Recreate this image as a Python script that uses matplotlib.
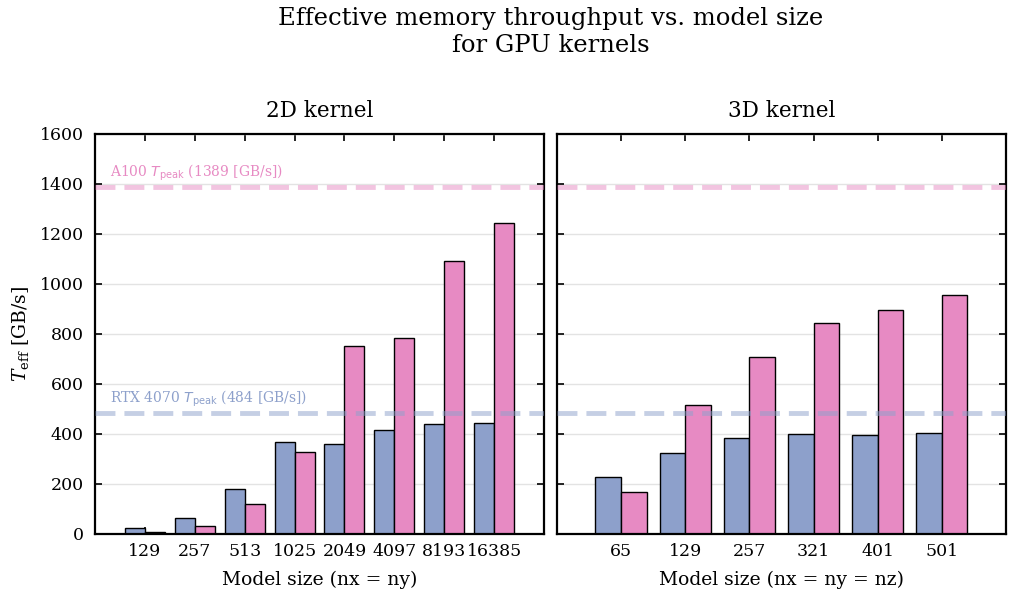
import numpy as np
import matplotlib
matplotlib.use("Agg")
import matplotlib.pyplot as plt

plt.rcParams['font.family'] = 'DejaVu Serif'

# data
sizes_2d = ['129', '257', '513', '1025', '2049', '4097', '8193', '16385']
rtx_2d = [23, 64, 179, 368, 359, 417, 439, 443]
a100_2d = [9, 31, 119, 328, 751, 783, 1091, 1242]

sizes_3d = ['65', '129', '257', '321', '401', '501']
rtx_3d = [227, 325, 383, 401, 396, 405]
a100_3d = [167, 516, 707, 843, 896, 957]

peak_rtx = 484
peak_a100 = 1389

c_rtx = '#8da0cb'
c_a100 = '#e78ac3'

fig, (ax1, ax2) = plt.subplots(1, 2, figsize=(10.11, 5.92), dpi=100, sharey=True)
fig.subplots_adjust(left=0.094, right=0.995, bottom=0.098, top=0.774, wspace=0.029)

w = 0.4
panels = [(ax1, sizes_2d, rtx_2d, a100_2d, '2D kernel', 'Model size (nx = ny)'),
          (ax2, sizes_3d, rtx_3d, a100_3d, '3D kernel', 'Model size (nx = ny = nz)')]

for ax, sizes, rtx, a100, title, xlabel in panels:
    x = np.arange(len(sizes))
    ax.bar(x - w / 2, rtx, w, color=c_rtx, edgecolor='black', linewidth=1.0, zorder=2)
    ax.bar(x + w / 2, a100, w, color=c_a100, edgecolor='black', linewidth=1.0, zorder=2)
    # peak bandwidth lines
    ax.axhline(peak_a100, color=c_a100, alpha=0.5, lw=3.5, ls=(0, (4.1, 1.85)), zorder=3)
    ax.axhline(peak_rtx, color=c_rtx, alpha=0.5, lw=3.5, ls=(0, (4.1, 1.85)), zorder=3)
    ax.set_xticks(x)
    ax.set_xticklabels(sizes)
    ax.set_xlim(-1, len(sizes))
    ax.set_ylim(0, 1600)
    ax.set_yticks(np.arange(0, 1601, 200))
    ax.grid(axis='y', color='#e3e3e3', lw=1.0, zorder=0)
    ax.set_axisbelow(True)
    ax.tick_params(direction='in', top=True, right=True, labelsize=12.5, length=5, width=1.2)
    ax.tick_params(axis='x', pad=6.5)
    ax.tick_params(axis='y', pad=8)
    for s in ax.spines.values():
        s.set_linewidth(1.6)
    ax.set_title(title, fontsize=15.5, pad=12)
    ax.set_xlabel(xlabel, fontsize=13.5, labelpad=7.5)

ax2.tick_params(labelleft=False)

ax1.text(-0.7, peak_a100 + 15, r'A100 $T_{\rm peak}$ (1389 [GB/s])', color=c_a100,
         fontsize=10, va='bottom', math_fontfamily='dejavusans')
ax1.text(-0.7, peak_rtx + 15, r'RTX 4070 $T_{\rm peak}$ (484 [GB/s])', color=c_rtx,
         fontsize=10, va='bottom', math_fontfamily='dejavusans')

ax1.set_ylabel(r'$T_{\rm eff}$ [GB/s]', fontsize=13.5, math_fontfamily='dejavuserif', labelpad=6)

fig.suptitle('Effective memory throughput vs. model size\nfor GPU kernels',
             fontsize=17.5, x=0.545, y=0.988)

fig.savefig('out.png', dpi=100)
